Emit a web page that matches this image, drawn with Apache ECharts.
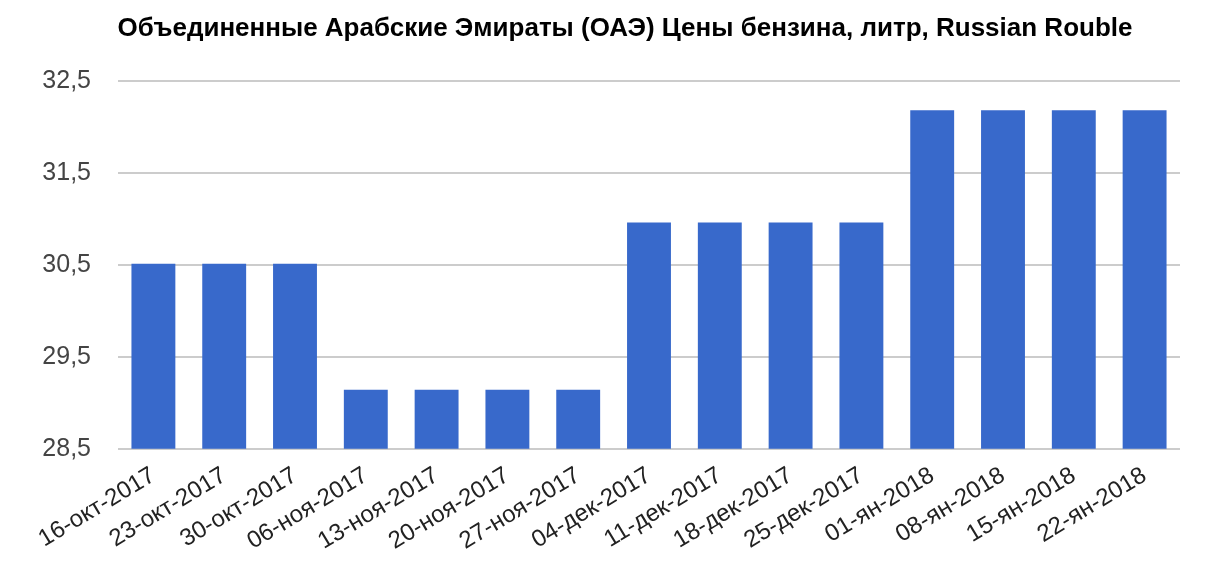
<!DOCTYPE html>
<html>
<head>
<meta charset="utf-8">
<script src="https://cdn.jsdelivr.net/npm/echarts@6/dist/echarts.min.js"></script>
<style>
  html, body { margin: 0; padding: 0; background: #fff; }
  #main { width: 1212px; height: 582px; }
</style>
</head>
<body>
<div id="main"></div>
<script>
// даты (недели) и цены бензина, руб./литр
var dates = ['16-окт-2017', '23-окт-2017', '30-окт-2017', '06-ноя-2017', '13-ноя-2017',
  '20-ноя-2017', '27-ноя-2017', '04-дек-2017', '11-дек-2017', '18-дек-2017',
  '25-дек-2017', '01-ян-2018', '08-ян-2018', '15-ян-2018', '22-ян-2018'];
var prices = [30.51, 30.51, 30.51, 29.14, 29.14, 29.14, 29.14,
  30.96, 30.96, 30.96, 30.96, 32.18, 32.18, 32.18, 32.18];

var chart = echarts.init(document.getElementById('main'));
chart.setOption({
  animation: false,
  textStyle: { fontFamily: 'Liberation Sans, Arial, sans-serif' },
  title: {
    text: 'Объединенные Арабские Эмираты (ОАЭ) Цены бензина, литр, Russian Rouble',
    left: 620,
    textAlign: 'center',
    top: 11,
    textStyle: { fontSize: 26, fontWeight: 'bold', color: '#000' }
  },
  grid: { left: 118, right: 32, top: 80.7, bottom: 133.3 },
  xAxis: {
    type: 'category',
    data: dates,
    axisLine: { show: false },
    axisTick: { show: false },
    axisLabel: { rotate: 31, fontSize: 24, color: '#222', margin: 25, interval: 0 }
  },
  yAxis: {
    type: 'value',
    min: 28.5,
    max: 32.5,
    interval: 1,
    axisLabel: {
      fontSize: 25, color: '#444', margin: 27,
      formatter: function (v) { return v.toFixed(1).replace('.', ','); }
    },
    splitLine: { lineStyle: { color: '#ccc', width: 2 } }
  },
  series: [{
    type: 'bar',
    data: prices,
    barCategoryGap: '38%',
    itemStyle: { color: '#3869cb' }
  }]
});
</script>
</body>
</html>
